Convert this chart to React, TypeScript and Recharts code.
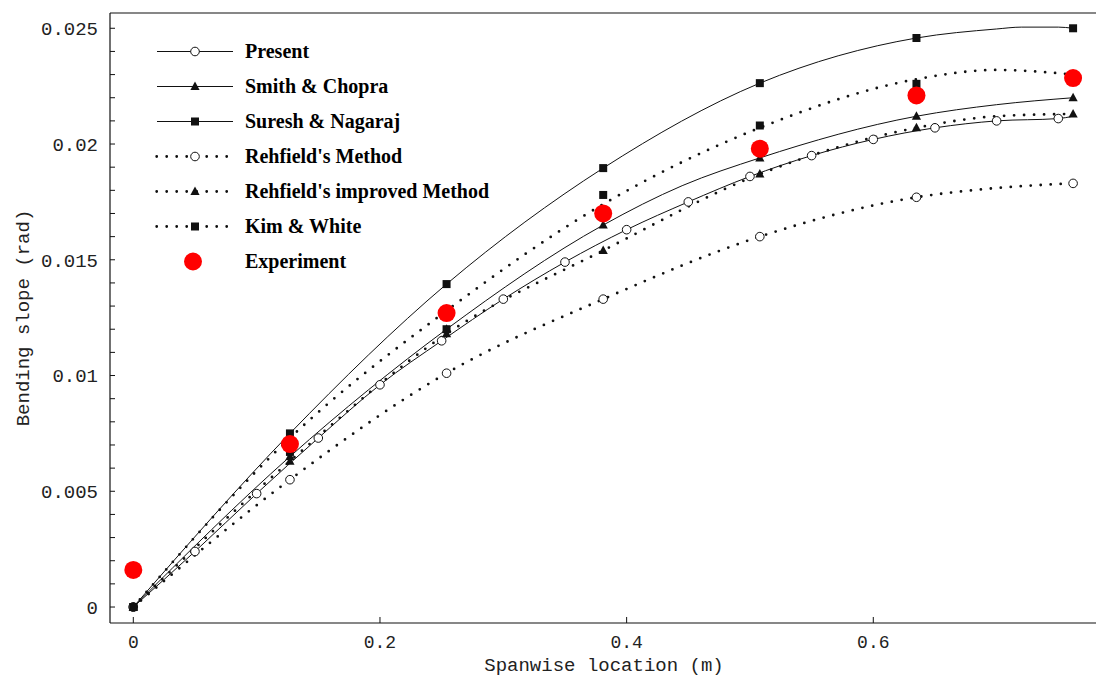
import React from "react";
import { LineChart, Line, XAxis, YAxis } from "recharts";

// spanwise stations where the comparison methods are plotted
const MARK_X = [0, 0.127, 0.254, 0.381, 0.508, 0.635, 0.762];

const presentX = [0, 0.05, 0.1, 0.15, 0.2, 0.25, 0.3, 0.35, 0.4, 0.45, 0.5, 0.55, 0.6, 0.65, 0.7, 0.75, 0.762];
const presentY = [0, 0.0024, 0.0049, 0.0073, 0.0096, 0.0115, 0.0133, 0.0149, 0.0163, 0.0175, 0.0186, 0.0195, 0.0202, 0.0207, 0.021, 0.0211, 0.0212];
const presentMarks = [0, 0.05, 0.1, 0.15, 0.2, 0.25, 0.3, 0.35, 0.4, 0.45, 0.5, 0.55, 0.6, 0.65, 0.7, 0.75];

const smithX = [0, 0.127, 0.254, 0.381, 0.445, 0.508, 0.635, 0.7, 0.762];
const smithY = [0, 0.0065, 0.012, 0.0165, 0.0182, 0.0194, 0.0212, 0.0217, 0.022];

const sureshX = [0, 0.127, 0.254, 0.381, 0.508, 0.635, 0.7, 0.72, 0.75, 0.762];
const sureshY = [0, 0.0075, 0.01395, 0.01896, 0.02263, 0.02458, 0.02497, 0.02505, 0.02505, 0.025];

const rehfieldX = [0, 0.127, 0.254, 0.381, 0.508, 0.635, 0.7, 0.762];
const rehfieldY = [0, 0.0055, 0.0101, 0.0133, 0.016, 0.0177, 0.0181, 0.0183];

const improvedX = [0, 0.127, 0.254, 0.381, 0.508, 0.635, 0.7, 0.762];
const improvedY = [0, 0.0063, 0.0118, 0.0154, 0.0187, 0.0207, 0.0212, 0.0213];

// Kim & White: dotted curve and its square markers do not quite coincide
const kimX = [0, 0.127, 0.254, 0.381, 0.508, 0.635, 0.7, 0.762];
const kimY = [0, 0.0073, 0.0128, 0.0174, 0.0207, 0.0228, 0.0232, 0.023];
const kimMarkY = [0, 0.0067, 0.012, 0.0178, 0.0208, 0.0226, 0.023];

const experimentY = [0.0016, 0.00704, 0.0127, 0.017, 0.0198, 0.0221, 0.02285];

const X_MAJOR = [0, 0.2, 0.4, 0.6];
const X_MINOR = [0, 0.05, 0.1, 0.15, 0.2, 0.25, 0.3, 0.35, 0.4, 0.45, 0.5, 0.55, 0.6, 0.65, 0.7, 0.75];
const Y_MAJOR = [0, 0.005, 0.01, 0.015, 0.02, 0.025];
const Y_MINOR = [
  0, 0.001, 0.002, 0.003, 0.004, 0.005, 0.006, 0.007, 0.008, 0.009, 0.01, 0.011, 0.012, 0.013,
  0.014, 0.015, 0.016, 0.017, 0.018, 0.019, 0.02, 0.021, 0.022, 0.023, 0.024, 0.025,
];

const X_DOMAIN = [-0.0189, 0.7822];
const Y_DOMAIN = [-0.00069, 0.02566];

type Shape = "circle" | "triangle" | "square" | "red";

const toPoints = (xs: number[], ys: number[], marks: number[]) =>
  xs.map((x, i) => ({ x, y: ys[i], m: marks.includes(x) }));

const presentData = toPoints(presentX, presentY, presentMarks);
const smithData = toPoints(smithX, smithY, MARK_X);
const sureshData = toPoints(sureshX, sureshY, MARK_X);
const rehfieldData = toPoints(rehfieldX, rehfieldY, MARK_X);
const improvedData = toPoints(improvedX, improvedY, MARK_X);
const kimData = toPoints(kimX, kimY, []);
const kimMarkData = toPoints(MARK_X, kimMarkY, MARK_X);
const experimentData = toPoints(MARK_X, experimentY, MARK_X);

const LEGEND = [
  { name: "Present", dotted: false, shape: "circle" as Shape },
  { name: "Smith & Chopra", dotted: false, shape: "triangle" as Shape },
  { name: "Suresh & Nagaraj", dotted: false, shape: "square" as Shape },
  { name: "Rehfield's Method", dotted: true, shape: "circle" as Shape },
  { name: "Rehfield's improved Method", dotted: true, shape: "triangle" as Shape },
  { name: "Kim & White", dotted: true, shape: "square" as Shape },
  { name: "Experiment", dotted: null, shape: "red" as Shape },
];

const INK = "#111";
const DOTS = "0 10";
// axes must have a non-zero size to be drawn; keep it tiny so the plot area is set by the margins
const THIN = 0.001;

function Marker({ shape, cx, cy }: { shape: Shape; cx: number; cy: number }) {
  if (shape === "circle")
    return <circle cx={cx} cy={cy} r={4.3} fill="#fff" stroke={INK} strokeWidth={1} strokeDasharray="none" />;
  if (shape === "triangle")
    return (
      <polygon
        points={`${cx},${cy - 5} ${cx - 4.6},${cy + 3.5} ${cx + 4.6},${cy + 3.5}`}
        fill={INK}
        stroke="none"
      />
    );
  if (shape === "square") return <rect x={cx - 4} y={cy - 4} width={8} height={8} fill={INK} stroke="none" />;
  return <circle cx={cx} cy={cy} r={9} fill="#ff0000" stroke="none" />;
}

const renderDot = (shape: Shape) => (props: any) => {
  const { cx, cy, payload, index } = props;
  const key = `${shape}-${index}`;
  if (!payload?.m || cx == null || cy == null) return <g key={key} />;
  return (
    <g key={key}>
      <Marker shape={shape} cx={cx} cy={cy} />
    </g>
  );
};

const tickFont = { fontFamily: "Liberation Mono", fill: "#222" };

export default function App() {
  const common = {
    xAxisId: "x",
    yAxisId: "y",
    dataKey: "y",
    type: "monotone" as const,
    stroke: INK,
    activeDot: false as const,
    isAnimationActive: false,
    legendType: "none" as const,
  };

  return (
    <div style={{ position: "absolute", left: 0, top: 0, width: 1096, height: 682, background: "#fff" }}>
      <LineChart width={1096} height={682} margin={{ top: 13, right: -2, bottom: 59, left: 110 }}>
        <XAxis
          xAxisId="x"
          type="number"
          dataKey="x"
          domain={X_DOMAIN}
          allowDataOverflow
          ticks={X_MAJOR}
          interval={0}
          height={THIN}
          tickSize={-6}
          tickMargin={18}
          axisLine={{ stroke: INK, strokeWidth: 1.2 }}
          tickLine={{ stroke: INK }}
          tick={{ ...tickFont, fontSize: 18 }}
          label={{
            value: "Spanwise location (m)",
            position: "bottom",
            offset: 35,
            style: { ...tickFont, fontSize: 19 },
          }}
        />
        <XAxis
          xAxisId="xm"
          type="number"
          dataKey="x"
          domain={X_DOMAIN}
          allowDataOverflow
          ticks={X_MINOR}
          interval={0}
          height={THIN}
          tickSize={-3}
          tick={false}
          axisLine={false}
          tickLine={{ stroke: INK }}
        />
        <XAxis
          xAxisId="xt"
          orientation="top"
          type="number"
          dataKey="x"
          domain={X_DOMAIN}
          allowDataOverflow
          ticks={X_MINOR}
          interval={0}
          height={THIN}
          tickSize={-4}
          tick={false}
          axisLine={{ stroke: INK, strokeWidth: 1.2 }}
          tickLine={{ stroke: INK }}
        />
        <YAxis
          yAxisId="y"
          type="number"
          domain={Y_DOMAIN}
          allowDataOverflow
          ticks={Y_MINOR}
          interval={0}
          width={THIN}
          tickSize={-5}
          tickMargin={17}
          tickFormatter={(v: number) => (Y_MAJOR.includes(v) ? String(v) : "")}
          axisLine={{ stroke: INK, strokeWidth: 1.2 }}
          tickLine={{ stroke: INK }}
          tick={{ ...tickFont, fontSize: 19 }}
          label={{
            value: "Bending slope (rad)",
            angle: -90,
            position: "insideLeft",
            offset: -88,
            style: { ...tickFont, fontSize: 19, textAnchor: "middle" },
          }}
        />
        <YAxis
          yAxisId="yr"
          orientation="right"
          type="number"
          domain={Y_DOMAIN}
          allowDataOverflow
          ticks={Y_MINOR}
          interval={0}
          width={THIN}
          tickSize={-5}
          tick={false}
          axisLine={false}
          tickLine={{ stroke: INK }}
        />

        <Line {...common} data={presentData} strokeWidth={1} dot={renderDot("circle")} />
        <Line {...common} data={smithData} strokeWidth={1} dot={renderDot("triangle")} />
        <Line {...common} data={sureshData} strokeWidth={1} dot={renderDot("square")} />
        <Line
          {...common}
          data={rehfieldData}
          strokeWidth={2.8}
          strokeDasharray={DOTS}
          strokeLinecap="round"
          dot={renderDot("circle")}
        />
        <Line
          {...common}
          data={improvedData}
          strokeWidth={2.8}
          strokeDasharray={DOTS}
          strokeLinecap="round"
          dot={renderDot("triangle")}
        />
        <Line
          {...common}
          data={kimData}
          strokeWidth={2.8}
          strokeDasharray={DOTS}
          strokeLinecap="round"
          dot={false}
        />
        <Line {...common} data={kimMarkData} stroke="none" dot={renderDot("square")} />
        <Line {...common} data={experimentData} stroke="none" dot={renderDot("red")} />
      </LineChart>

      <div style={{ position: "absolute", left: 150, top: 34 }}>
        {LEGEND.map((item) => (
          <div key={item.name} style={{ display: "flex", alignItems: "center", height: 35 }}>
            <svg width={95} height={35} style={{ display: "block" }}>
              {item.dotted === false && <line x1={7} x2={83} y1={17.5} y2={17.5} stroke={INK} strokeWidth={1} />}
              {item.dotted === true && (
                <line
                  x1={6.7}
                  x2={78}
                  y1={17.5}
                  y2={17.5}
                  stroke={INK}
                  strokeWidth={2.8}
                  strokeDasharray={DOTS}
                  strokeLinecap="round"
                />
              )}
              <Marker shape={item.shape} cx={item.shape === "red" ? 43 : 45} cy={17.5} />
            </svg>
            <span
              style={{
                fontFamily: "Liberation Serif",
                fontWeight: "bold",
                fontSize: 20,
                color: "#000",
                whiteSpace: "nowrap",
              }}
            >
              {item.name}
            </span>
          </div>
        ))}
      </div>
    </div>
  );
}
